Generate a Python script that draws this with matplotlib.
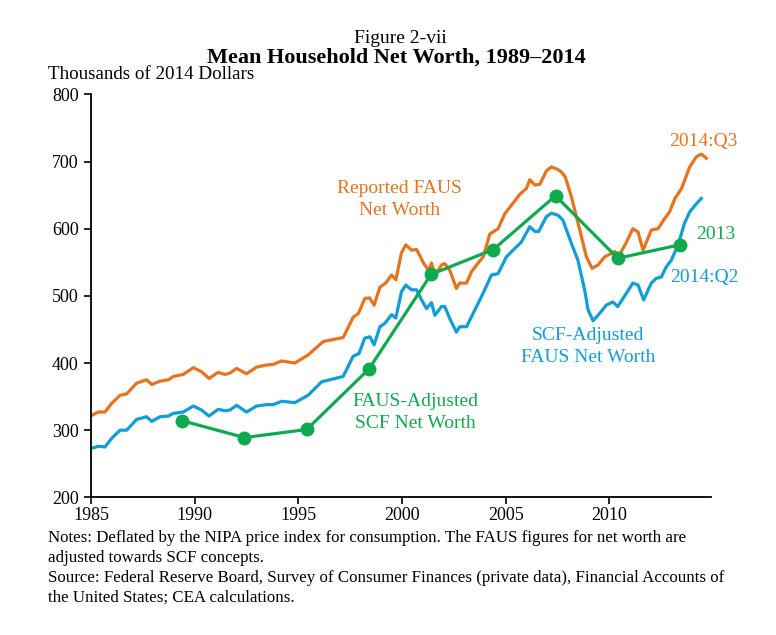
import numpy as np
import matplotlib
matplotlib.use("Agg")
import matplotlib.pyplot as plt

plt.rcParams['font.family'] = ['Liberation Serif', 'DejaVu Serif']

# Reported FAUS net worth (quarterly)
faus_years = [1985.03, 1985.35, 1985.67, 1986.00, 1986.40, 1986.72, 1987.20, 1987.68, 1987.93,
              1988.33, 1988.73, 1988.97, 1989.45, 1989.93, 1990.33, 1990.69, 1991.13, 1991.46,
              1991.70, 1992.02, 1992.50, 1992.99, 1993.47, 1993.79, 1994.19, 1994.83, 1995.47,
              1996.20, 1997.16, 1997.64, 1997.90, 1998.20, 1998.43, 1998.65, 1998.93, 1999.21,
              1999.49, 1999.70, 1999.97, 2000.18, 2000.46, 2000.70, 2001.05, 2001.28, 2001.42,
              2001.58, 2001.90, 2002.06, 2002.30, 2002.62, 2002.78, 2003.11, 2003.35, 2003.67,
              2003.91, 2004.23, 2004.63, 2004.95, 2005.35, 2005.67, 2006.00, 2006.16, 2006.40,
              2006.64, 2006.96, 2007.20, 2007.52, 2007.70, 2007.87, 2008.17, 2008.57, 2008.89,
              2009.16, 2009.45, 2009.77, 2010.09, 2010.25, 2010.49, 2010.82, 2011.13, 2011.38,
              2011.62, 2012.02, 2012.34, 2012.66, 2012.90, 2013.16, 2013.48, 2013.87, 2014.19,
              2014.43, 2014.67]
faus_values = [322, 327, 327, 340, 352, 354, 370, 375, 368,
               373, 375, 380, 383, 393, 387, 377, 386, 383,
               385, 392, 384, 394, 397, 398, 403, 400, 412,
               432, 438, 468, 474, 496, 497, 486, 513, 519,
               531, 524, 564, 576, 568, 569, 548, 538, 549,
               530, 546, 548, 538, 511, 519, 519, 536, 549,
               558, 592, 600, 622, 638, 651, 660, 673, 665,
               666, 686, 692, 688, 684, 677, 647, 598, 558,
               541, 546, 558, 563, 566, 561, 580, 600, 595,
               568, 598, 600, 615, 625, 645, 660, 692, 707,
               711, 705]

# SCF-adjusted FAUS net worth
adj_years = [1985.03, 1985.35, 1985.67, 1986.00, 1986.40, 1986.72, 1987.20, 1987.68, 1987.93,
             1988.33, 1988.73, 1988.97, 1989.45, 1989.93, 1990.33, 1990.69, 1991.13, 1991.46,
             1991.70, 1992.02, 1992.50, 1992.99, 1993.47, 1993.79, 1994.19, 1994.83, 1995.47,
             1996.12, 1997.16, 1997.64, 1997.92, 1998.20, 1998.45, 1998.65, 1998.93, 1999.17,
             1999.49, 1999.70, 1999.97, 2000.18, 2000.46, 2000.70, 2000.94, 2001.18, 2001.42,
             2001.58, 2001.90, 2002.06, 2002.30, 2002.62, 2002.78, 2003.11, 2003.35, 2003.59,
             2003.91, 2004.31, 2004.63, 2005.03, 2005.35, 2005.75, 2006.16, 2006.40, 2006.59,
             2006.96, 2007.20, 2007.52, 2007.75, 2008.17, 2008.48, 2008.81, 2008.97, 2009.21,
             2009.45, 2009.69, 2009.84, 2010.16, 2010.40, 2010.82, 2011.13, 2011.38, 2011.65,
             2012.02, 2012.26, 2012.50, 2012.74, 2012.98, 2013.30, 2013.62, 2013.87, 2014.19,
             2014.43]
adj_values = [273, 276, 275, 288, 300, 300, 316, 320, 313,
              320, 321, 325, 327, 336, 330, 321, 331, 329,
              330, 337, 327, 336, 338, 338, 343, 341, 352,
              372, 380, 410, 414, 437, 439, 427, 454, 459,
              472, 467, 506, 516, 509, 509, 494, 481, 490,
              471, 484, 484, 466, 446, 454, 454, 469, 484,
              504, 531, 533, 558, 568, 580, 603, 596, 596,
              618, 623, 620, 613, 578, 553, 508, 479, 463,
              471, 480, 486, 491, 484, 504, 519, 516, 494,
              519, 526, 528, 543, 553, 575, 608, 625, 637,
              645]

# FAUS-adjusted SCF net worth (survey years)
scf_years = [1989, 1992, 1995, 1998, 2001, 2004, 2007, 2010, 2013]
scf_values = [314, 289, 301, 391, 532, 569, 649, 556, 576]

orange = '#E8731C'
blue = '#109DDA'
green = '#0FAA4F'

fig = plt.figure(figsize=(7.76, 6.35), dpi=100)
ax = fig.add_axes([0.1173, 0.2168, 0.799, 0.6346])

ax.plot(faus_years, faus_values, color=orange, lw=2.3, solid_joinstyle='round')
ax.plot(adj_years, adj_values, color=blue, lw=2.3, solid_joinstyle='round')
ax.plot(np.array(scf_years) + 0.4, scf_values, color=green, lw=2.3,
        marker='o', markersize=9)

ax.set_xlim(1985, 2014.9)
ax.set_ylim(200, 800)
ax.set_xticks([1985, 1990, 1995, 2000, 2005, 2010])
ax.set_yticks(range(200, 801, 100))
ax.spines['top'].set_visible(False)
ax.spines['right'].set_visible(False)
for s in ['left', 'bottom']:
    ax.spines[s].set_linewidth(1.3)
ax.tick_params(axis='both', labelsize=13, width=1.2, length=5, direction='out')
ax.tick_params(axis='x', pad=2)
ax.tick_params(axis='y', pad=4)

# labels on the chart
ax.text(1999.87, 643, 'Reported FAUS\nNet Worth', color=orange, fontsize=14,
        ha='center', va='center', linespacing=1.4)
ax.text(2012.86, 730, '2014:Q3', color=orange, fontsize=14, ha='left', va='center')
ax.text(2014.16, 592, '2013', color=green, fontsize=14, ha='left', va='center')
ax.text(2012.95, 528, '2014:Q2', color=blue, fontsize=14, ha='left', va='center')
ax.text(2008.98, 425, 'SCF-Adjusted\nFAUS Net Worth', color=blue, fontsize=14,
        ha='center', va='center', linespacing=1.4)
ax.text(2000.66, 326, 'FAUS-Adjusted\nSCF Net Worth', color=green, fontsize=14,
        ha='center', va='center', linespacing=1.4)

fig.text(0.516, 0.939, 'Figure 2-vii', fontsize=14, ha='center', va='center')
fig.text(0.511, 0.910, 'Mean Household Net Worth, 1989\u20132014', fontsize=16,
         fontweight='bold', ha='center', va='center')
fig.text(0.062, 0.883, 'Thousands of 2014 Dollars', fontsize=13.7, ha='left', va='center')

notes = ('Notes: Deflated by the NIPA price index for consumption. The FAUS figures for net worth are\n'
         'adjusted towards SCF concepts.\n'
         'Source: Federal Reserve Board, Survey of Consumer Finances (private data), Financial Accounts of\n'
         'the United States; CEA calculations.')
fig.text(0.062, 0.166, notes, fontsize=12.2, ha='left', va='top', linespacing=1.33)

fig.savefig('out.png', dpi=100)
